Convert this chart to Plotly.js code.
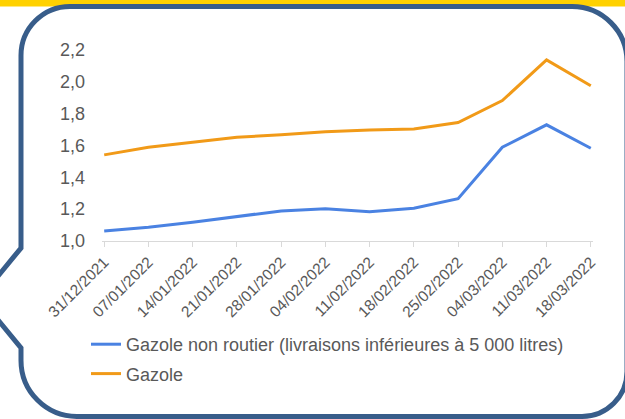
<!DOCTYPE html>
<html>
<head>
<meta charset="utf-8">
<script src="https://cdn.plot.ly/plotly-3.0.1.min.js"></script>
<style>html,body{margin:0;padding:0;background:#fff;}#chart{width:625px;height:419px;}</style>
</head>
<body>
<div id="chart"></div>
<script>
var dates = ["31/12/2021","07/01/2022","14/01/2022","21/01/2022","28/01/2022","04/02/2022","11/02/2022","18/02/2022","25/02/2022","04/03/2022","11/03/2022","18/03/2022"];
var gnrName = "Gazole non routier (livraisons inférieures à 5 000 litres)";
var gnrValues = [1.063, 1.086, 1.118, 1.153, 1.189, 1.203, 1.184, 1.206, 1.266, 1.589, 1.730, 1.583];
var gazoleName = "Gazole";
var gazoleValues = [1.541, 1.589, 1.620, 1.652, 1.667, 1.686, 1.698, 1.704, 1.744, 1.882, 2.138, 1.975];

var W = 625, Hh = 419;
var mL = 102, mR = 32, mT = 50, mB = 178;
var pw = W - mL - mR, ph = Hh - mT - mB;
function px(x){ return (x - mL) / pw; }
function py(y){ return (Hh - mB - y) / ph; }
function P(x,y){ return px(x).toFixed(5) + "," + py(y).toFixed(5); }

// decorative speech-bubble frame (pixel geometry converted to paper units)
var kc = 0.552;
var fTop = 6.5, fLeft = 21, fRight = 627, fBottom = 416.5;
var rTL = 49, rTR = 55, rBR = 45, rBL = 56;
var framePath =
  "M" + P(fLeft + rTL, fTop) +
  " L" + P(fRight - rTR, fTop) +
  " C" + P(fRight - rTR + kc*rTR, fTop) + " " + P(fRight, fTop + rTR - kc*rTR) + " " + P(fRight, fTop + rTR) +
  " L" + P(fRight, fBottom - rBR) +
  " C" + P(fRight, fBottom - rBR + kc*rBR) + " " + P(fRight - rBR + kc*rBR, fBottom) + " " + P(fRight - rBR, fBottom) +
  " L" + P(fLeft + rBL, fBottom) +
  " C" + P(fLeft + rBL - kc*rBL, fBottom) + " " + P(fLeft, fBottom - rBL + kc*rBL) + " " + P(fLeft, fBottom - rBL) +
  " L" + P(fLeft, 348) +
  " L" + P(-20, 298) +
  " L" + P(fLeft, 248) +
  " L" + P(fLeft, fTop + rTL) +
  " C" + P(fLeft, fTop + rTL - kc*rTL) + " " + P(fLeft + rTL - kc*rTL, fTop) + " " + P(fLeft + rTL, fTop) +
  " Z";

var traces = [
  {x: dates, y: gnrValues, name: gnrName, type: "scatter", mode: "lines",
   line: {color: "#4a82e2", width: 3}, legendgroup: "a"},
  {x: dates, y: gazoleValues, name: gazoleName, type: "scatter", mode: "lines",
   line: {color: "#f19a18", width: 3}, legendgroup: "b"}
];

var layout = {
  width: W, height: Hh,
  margin: {l: mL, r: mR, t: mT, b: mB, pad: 0},
  paper_bgcolor: "#ffffff",
  plot_bgcolor: "rgba(0,0,0,0)",
  separators: ", ",
  font: {family: "Liberation Sans, Arial, sans-serif", color: "#595959", size: 18},
  showlegend: true,
  legend: {
    x: px(86), y: py(326), xanchor: "left", yanchor: "top",
    orientation: "v", traceorder: "grouped", tracegroupgap: 3,
    font: {size: 18, color: "#595959"},
    bgcolor: "rgba(0,0,0,0)", borderwidth: 0
  },
  xaxis: {
    type: "category", range: [-0.05, 11.05],
    showline: true, linecolor: "#d9d9d9", linewidth: 1,
    ticks: "outside", ticklen: 5, tickcolor: "#d9d9d9", tickwidth: 1,
    tickangle: -45, tickfont: {size: 15.5, color: "#595959"},
    showgrid: false, zeroline: false, fixedrange: true
  },
  yaxis: {
    range: [1.0, 2.2], tick0: 1.0, dtick: 0.2, tickformat: ".1f",
    showline: false, ticks: "", showgrid: false, zeroline: false,
    ticklabelstandoff: 16,
    tickfont: {size: 18, color: "#595959"}, fixedrange: true
  },
  shapes: [
    {type: "rect", xref: "paper", yref: "paper", x0: px(-10), x1: px(635), y0: py(0), y1: py(6.5),
     fillcolor: "#ffd100", line: {width: 0}, layer: "below"},
    {type: "path", xref: "paper", yref: "paper", path: framePath,
     line: {color: "#385d8a", width: 5}, fillcolor: "rgba(0,0,0,0)", layer: "below"}
  ]
};

Plotly.newPlot("chart", traces, layout, {displayModeBar: false, staticPlot: true});
</script>
</body>
</html>
